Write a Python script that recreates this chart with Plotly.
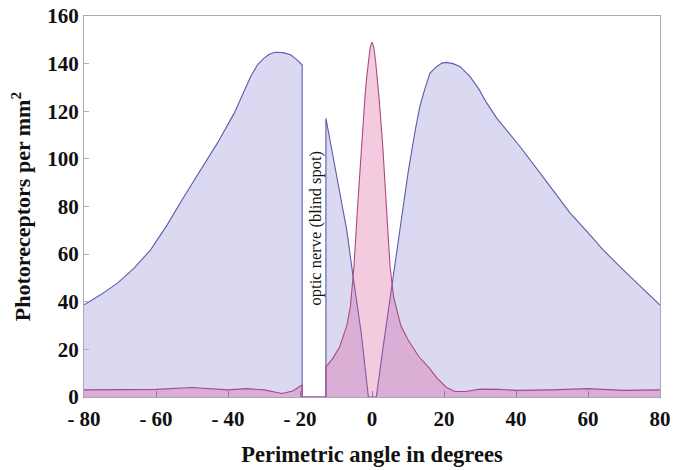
import plotly.graph_objects as go

# Rods (blue) - perimetric angle (deg) vs photoreceptors per mm^2
rod_x = [-80, -75.4, -70.7, -66.1, -61.5, -56.9, -52.2, -47.5, -43, -38.3, -33.7, -31.8, -30, -28.4, -26.8, -24.7,
         -22.6, -21, -19.4,
         -19.4, -12.8,
         -12.8, -10, -7, -5.2, -3, -1, 1.2, 3, 5.5, 8, 10, 12, 13.3, 14.8, 16.1, 18, 19.4, 20.7, 22.5, 24.4, 27.2,
         29.6, 31.9, 34.6, 37.4, 41.1, 46.7, 51, 55, 60, 64.2, 69, 73.5, 77, 79.5, 80]
rod_y = [38.7, 42.9, 47.8, 54.1, 61.8, 72.3, 84.2, 95.5, 106.5, 119.1, 134.6, 139.5, 142.3, 144, 144.8, 144.6,
         143.7, 141.8, 139.5,
         0, 0,
         117, 95, 70, 50, 27, 0, 0, 20, 46, 72, 94, 112, 122, 130, 136, 138.8, 140.2, 140.5, 140, 138.8, 134.6,
         129.5, 123.4, 117.2, 112, 105.2, 94, 85.5, 77.3, 69, 61.8, 54.5, 47.8, 42.8, 39.3, 38.6]

# Cones (pink)
cone_x = [-80, -70, -60, -50, -45, -40, -35, -30, -25, -22, -20, -19.4,
          -19.4, -12.8,
          -12.8, -11, -9, -7, -6, -5, -4, -3, -2, -1.5, -1, -0.5, 0, 0.5, 1, 1.5, 2, 3, 4, 5, 6, 8, 10, 13, 16, 18,
          20.7, 23, 26, 30, 35, 40, 50, 60, 70, 80]
cone_y = [3, 3, 3.2, 4, 3.5, 3, 3.5, 3, 1.5, 2.5, 4.5, 5,
          0, 0,
          12.6, 16, 21, 30, 38, 55, 80, 105, 125, 134, 141, 146.8, 149, 146.8, 141, 134, 125, 105, 80, 55, 42, 30, 24,
          17, 12, 8, 4, 2.3, 2.3, 3.3, 3.2, 2.8, 3, 3.5, 2.8, 3]

x_tick_vals = [-80, -60, -40, -20, 0, 20, 40, 60, 80]
x_tick_text = ["- 80", "- 60", "- 40", "- 20", "0", "20", "40", "60", "80"]
y_tick_vals = [0, 20, 40, 60, 80, 100, 120, 140, 160]

blind_label = "optic nerve (blind spot)"
x_title = "Perimetric angle in degrees"
y_title = "Photoreceptors per mm<sup>2</sup>"

serif = "Liberation Serif, Times New Roman, serif"

fig = go.Figure()
fig.add_trace(go.Scatter(
    x=rod_x, y=rod_y, mode="lines", fill="tozeroy",
    line=dict(color="#5c5cab", width=1.1),
    fillcolor="rgba(110,100,200,0.25)", hoverinfo="skip", showlegend=False))
fig.add_trace(go.Scatter(
    x=cone_x, y=cone_y, mode="lines", fill="tozeroy",
    line=dict(color="#a84c80", width=1.1),
    fillcolor="rgba(220,80,150,0.30)", hoverinfo="skip", showlegend=False))

fig.add_annotation(x=-15.7, y=71, xref="x", yref="y", text=blind_label, textangle=-90,
                   showarrow=False, font=dict(family=serif, size=16.5, color="#111"))

fig.update_layout(
    width=673, height=470,
    margin=dict(l=84, r=13, t=16, b=73, autoexpand=False),
    paper_bgcolor="white", plot_bgcolor="white",
    font=dict(family=serif, color="#111"),
)
fig.update_xaxes(
    range=[-80, 80], tickvals=x_tick_vals, ticktext=x_tick_text,
    tickfont=dict(family=serif, size=21, weight="bold", color="#111"),
    ticks="inside", ticklen=6, tickcolor="#8a7aa8", tickwidth=1,
    ticklabeloverflow="allow", ticklabelstandoff=3, automargin=False,
    showgrid=False, zeroline=False,
    showline=True, linecolor="#a8a8b8", linewidth=1.2, mirror=True,
    title=dict(text=x_title, font=dict(family=serif, size=22.5, weight="bold", color="#111"), standoff=15),
)
fig.update_yaxes(
    range=[0, 160], tickvals=y_tick_vals,
    tickfont=dict(family=serif, size=21, weight="bold", color="#111"),
    ticks="inside", ticklen=5, tickcolor="#b0b0b0", tickwidth=1,
    ticklabeloverflow="allow", automargin=False,
    showgrid=False, zeroline=False,
    showline=True, linecolor="#a8a8b8", linewidth=1.2, mirror=True,
    title=dict(text=y_title, font=dict(family=serif, size=22, weight="bold", color="#111"), standoff=10),
)

# remove the browser's default 8px body margin so the 673x470 figure fills the window exactly
fig.write_html("out.html", config={"displayModeBar": False},
               post_script="document.body.style.margin='0';document.body.style.overflow='hidden';")
